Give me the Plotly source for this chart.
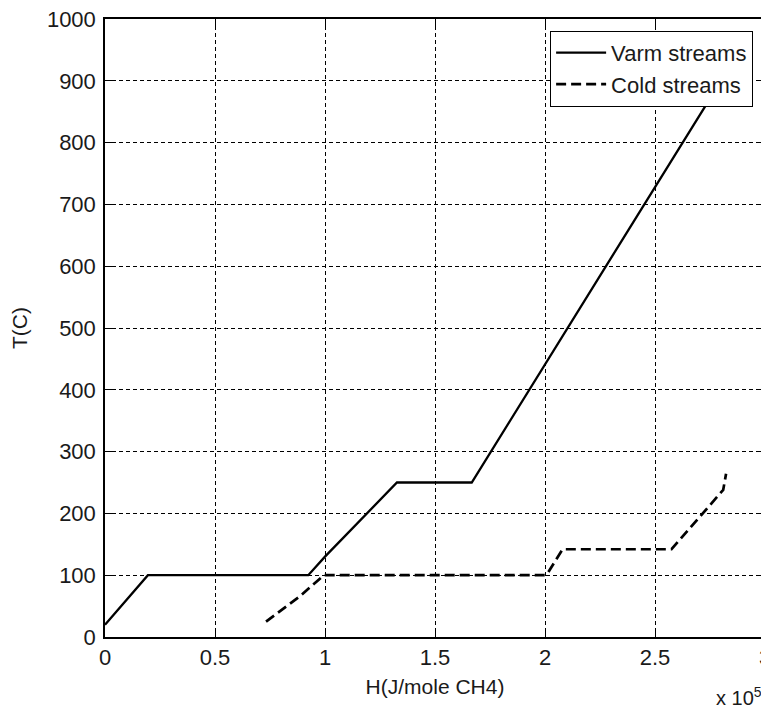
import plotly.graph_objects as go

# Warm composite curve (H in J/mole CH4, T in C)
warm_H = [0, 19500, 92400, 100000, 132700, 166700, 280000]
warm_T = [20, 100, 100, 130, 250, 250, 900]

# Cold composite curve
cold_H = [73200, 88600, 99500, 200000, 201500, 208000, 257500, 281000, 282300]
cold_T = [25, 66, 100, 100, 105, 142, 142, 238, 264]

x_tickvals = [0, 50000, 100000, 150000, 200000, 250000, 300000]
x_ticktext = ["0", "0.5", "1", "1.5", "2", "2.5", "3"]
y_tickvals = [0, 100, 200, 300, 400, 500, 600, 700, 800, 900, 1000]

FONT = "Liberation Sans"
TXT = "#1a1a1a"

fig = go.Figure()
fig.add_trace(go.Scatter(x=warm_H, y=warm_T, mode="lines", name="Varm streams",
                         line=dict(color="black", width=2.3)))
fig.add_trace(go.Scatter(x=cold_H, y=cold_T, mode="lines", name="Cold streams",
                         line=dict(color="black", width=2.7, dash="10px,5px")))

axis_common = dict(
    showgrid=True, gridcolor="black", gridwidth=1, griddash="4px,3px",
    showline=True, linecolor="black", linewidth=1.5, mirror="allticks",
    ticks="inside", ticklen=8, tickcolor="black", tickwidth=1,
    zeroline=False, tickfont=dict(family=FONT, size=22, color=TXT),
    ticklabeloverflow="allow",
)

fig.update_xaxes(range=[0, 300000], tickvals=x_tickvals, ticktext=x_ticktext,
                 ticklabelstandoff=0,
                 title=dict(text="H(J/mole CH4)", font=dict(family=FONT, size=21, color=TXT), standoff=10),
                 **axis_common)
fig.update_yaxes(range=[0, 1000], tickvals=y_tickvals, ticklabelstandoff=3,
                 title=dict(text="T(C)", font=dict(family=FONT, size=21, color=TXT), standoff=20),
                 **axis_common)

fig.add_annotation(x=1.0, y=0, xref="paper", yref="paper", xanchor="right", yanchor="middle",
                   yshift=-59, xshift=-1, showarrow=False,
                   text="x 10<sup>5</sup>", font=dict(family=FONT, size=20, color=TXT))

fig.update_layout(
    width=761, height=700,
    margin=dict(l=97, r=4, t=11, b=71, autoexpand=False),
    paper_bgcolor="white", plot_bgcolor="white",
    showlegend=True,
    legend=dict(x=0.982, y=0.981, xanchor="right", yanchor="top",
                bgcolor="white", bordercolor="black", borderwidth=1,
                font=dict(family=FONT, size=22, color=TXT),
                tracegroupgap=0, itemwidth=50),
)

fig.write_html("out.html")
